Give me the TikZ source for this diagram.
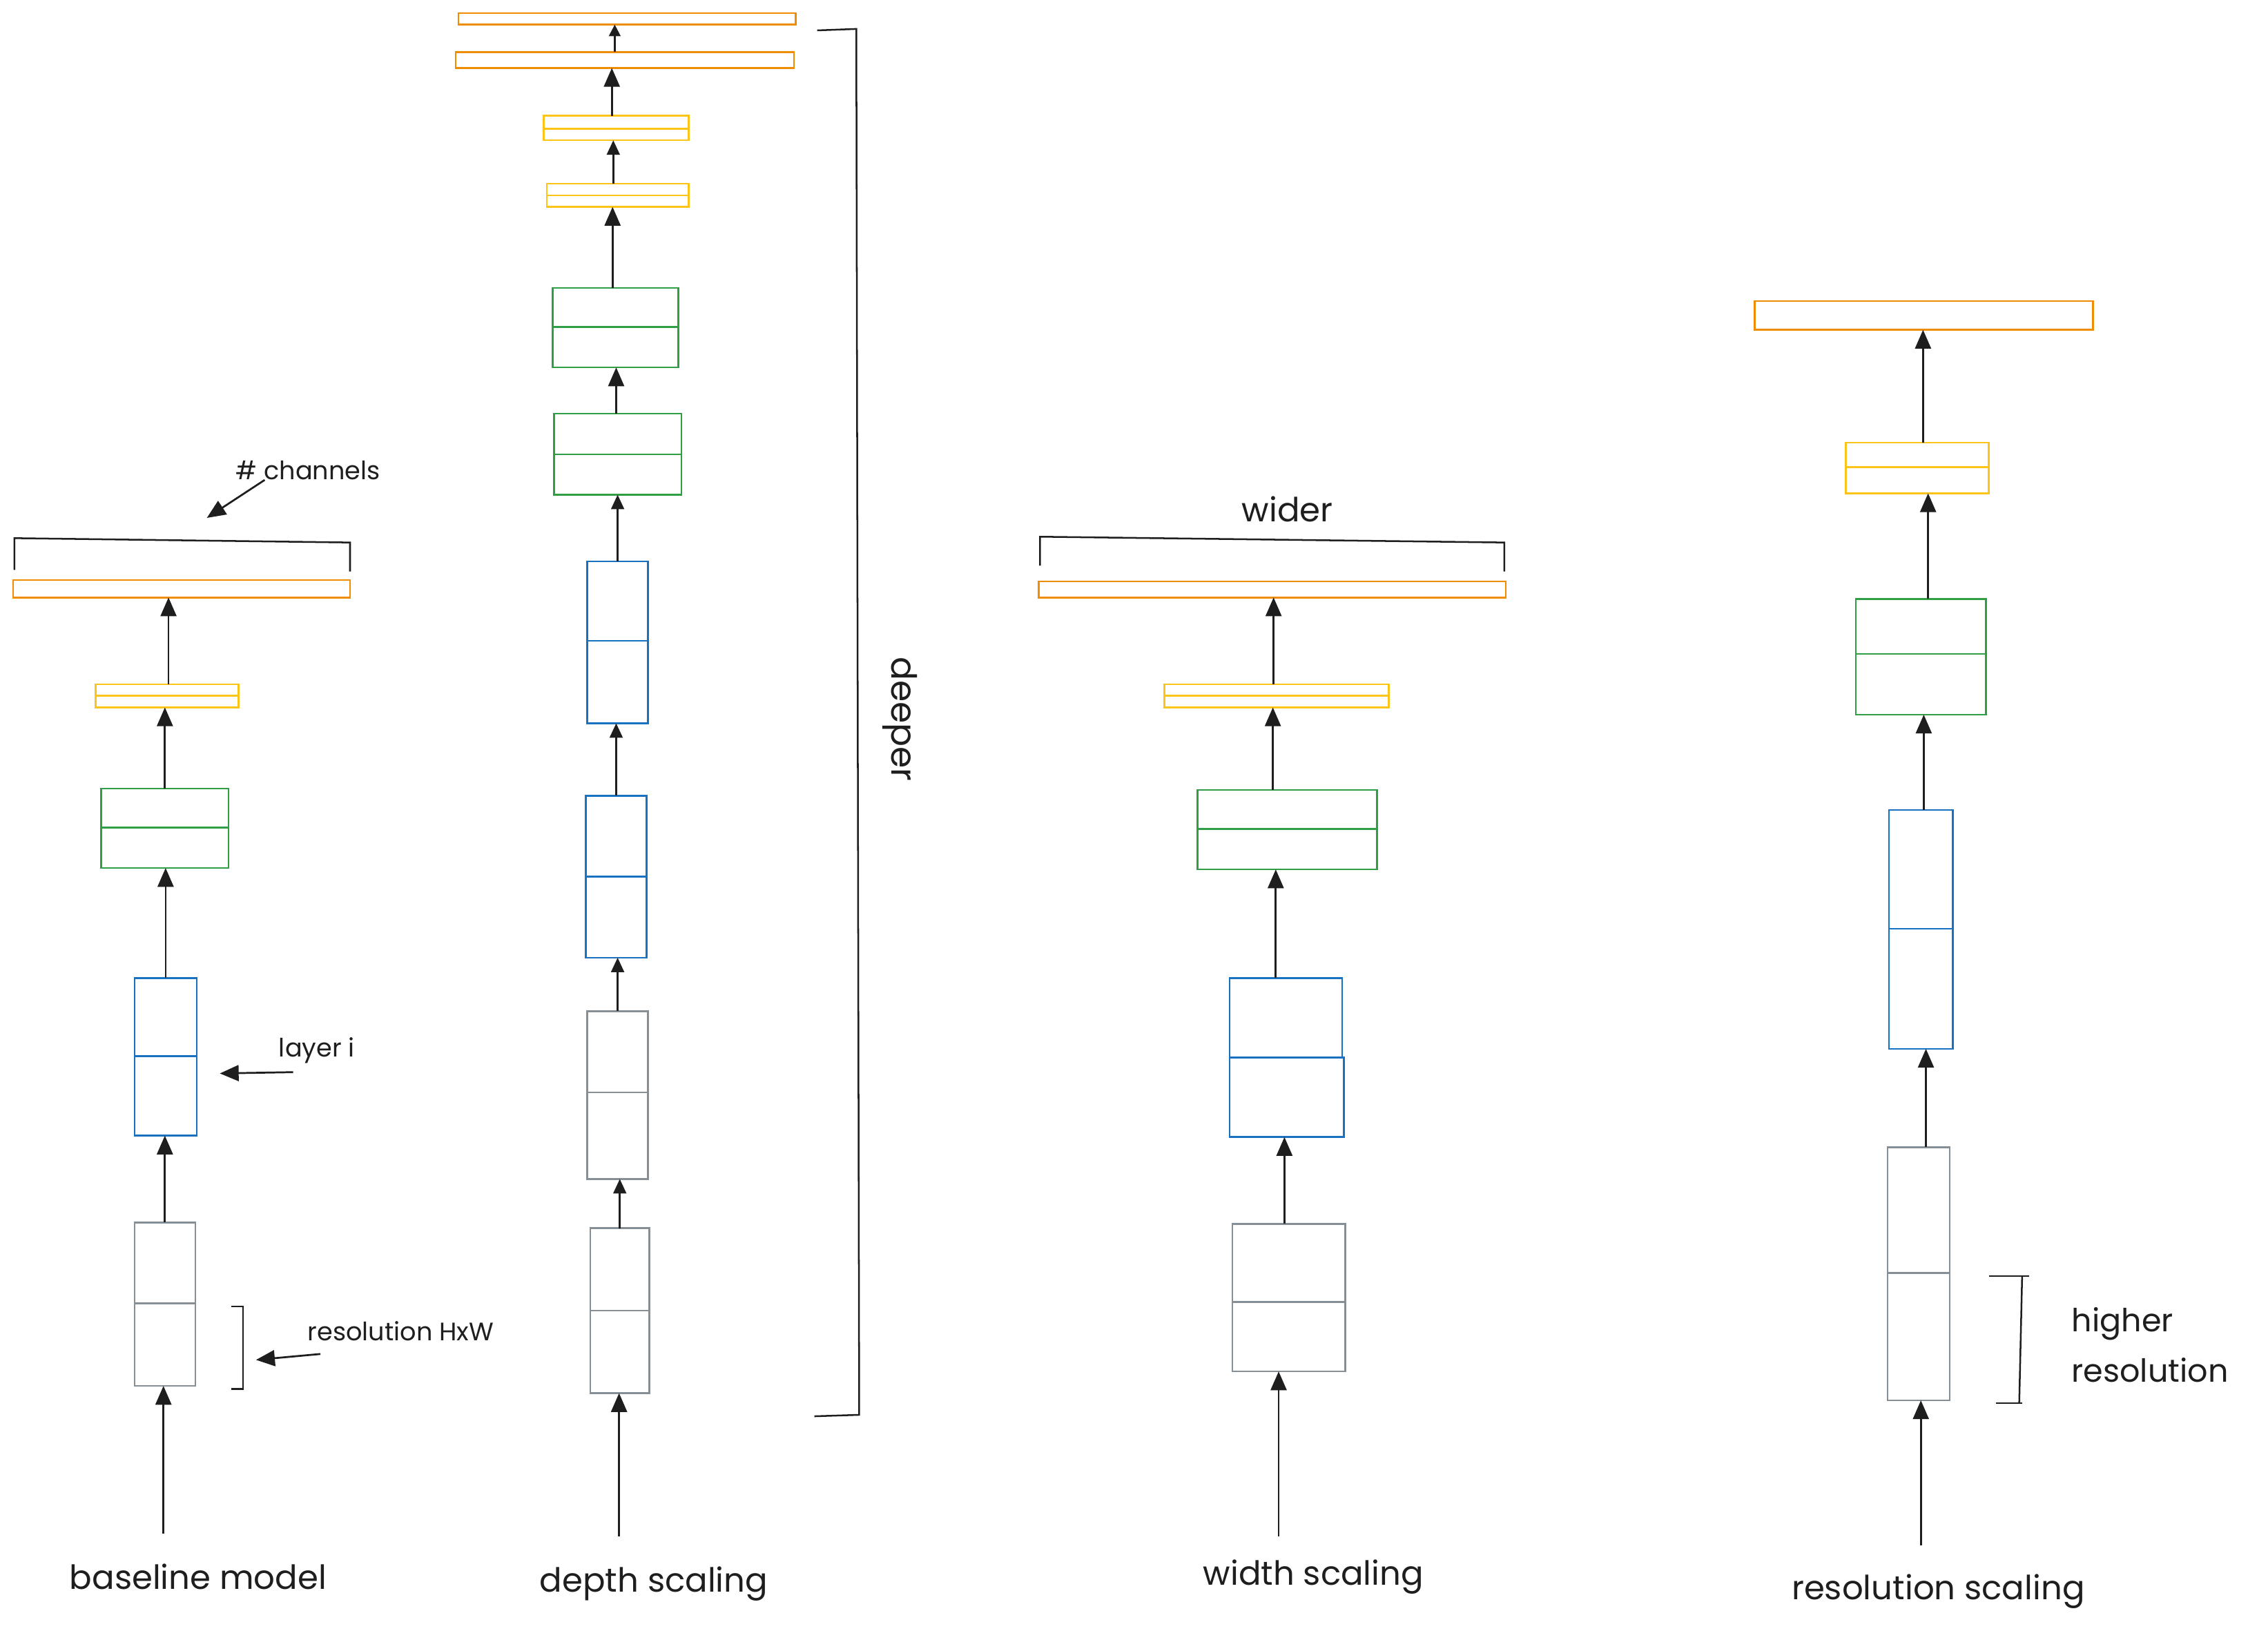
\documentclass[tikz,border=0pt]{standalone}
\usepackage{fontspec}
\setmainfont{Poppins}
\usetikzlibrary{arrows.meta}
\definecolor{cOrange}{HTML}{F08C00}
\definecolor{cYellow}{HTML}{FCC419}
\definecolor{cGreen}{HTML}{2F9E44}
\definecolor{cBlue}{HTML}{1971C2}
\definecolor{cGray}{HTML}{868E96}
\definecolor{cInk}{HTML}{1E1E1E}
\newcommand\mkbox[6]{\node[#2, minimum width={#5pt-#3pt}, minimum height={#6pt-#4pt}] (#1) at (#3,#4) {};}
\tikzset{
  box/.style={draw, fill=none, inner sep=0pt, outer sep=0pt, anchor=north west, line width=1.2pt},
  obox/.style={box, draw=cOrange},
  ybox/.style={box, draw=cYellow},
  gbox/.style={box, draw=cGreen},
  bbox/.style={box, draw=cBlue},
  rbox/.style={box, draw=cGray},
  flow/.style={draw=cInk, line width=1.3pt, -{Triangle[length=13pt,width=11pt]}},
  sflow/.style={draw=cInk, line width=1.2pt, -{Triangle[length=10pt,width=9pt]}},
  tflow/.style={draw=cInk, line width=1.1pt, -{Triangle[length=8pt,width=8pt]}},
  brk/.style={draw=cInk, line width=1.2pt},
  lbl/.style={text=cInk, inner sep=0pt, font=\fontsize{23}{27}\selectfont},
  mlbl/.style={text=cInk, inner sep=0pt, font=\fontsize{22}{26}\selectfont},
  note/.style={text=cInk, inner sep=0pt, font=\fontsize{17.5}{21}\selectfont},
}
\begin{document}
\begin{tikzpicture}[x=1pt, y=-1pt]
\useasboundingbox (0,0) rectangle (1568,1127);

% ---------------- baseline model ----------------
\mkbox{Aro}{rbox}{93}{901}{135}{958}
\mkbox{Arh}{rbox}{93}{845}{135}{901}
\mkbox{Abo}{bbox}{93}{730}{136}{785}
\mkbox{Abh}{bbox}{93}{676}{136}{730}
\mkbox{Ago}{gbox}{70}{572}{158}{600}
\mkbox{Agh}{gbox}{70}{545}{158}{572}
\mkbox{Ayo}{ybox}{66}{481}{165}{489}
\mkbox{Ayh}{ybox}{66}{473}{165}{481}
\mkbox{Ao}{obox}{9}{401}{242}{413}
\coordinate (Ain) at (113,1060);
\draw[flow] (Ain) -- (Ain |- Aro.south);
\draw[flow] (Arh.north) -- (Arh.north |- Abo.south);
\draw[flow] (Abh.north) -- (Abh.north |- Ago.south);
\draw[flow] (Agh.north) -- (Agh.north |- Ayo.south);
\draw[flow] ([xshift=1pt]Ayh.north) -- ([xshift=1pt]Ayh.north |- Ao.south);
\node[lbl] (Alab) at (137,1090) {baseline model};
% channels bracket
\coordinate (Ach1) at (10,394);
\coordinate (Ach2) at (242,395);
\draw[brk] (Ach1) -- (10,372) -- (242,375) -- (Ach2);
\node[note] (chan) at (213,325) {\# channels};
\coordinate (chTip) at (143,358);
\draw[flow] ([xshift=-30pt]chan.south) -- (chTip);
% layer i
\node[note] (lay) at (219,726) {layer i};
\coordinate (layTip) at (152,742);
\draw[flow] ([shift={(10pt,-6pt)}]lay.south west) -- (layTip);
% resolution HxW
\draw[brk] (160,903) -- (168,903) -- (168,960) -- (160,960);
\node[note] (resA) at (277,920) {resolution HxW};
\coordinate (resTip) at (177,940);
\draw[flow] ([shift={(9pt,-9pt)}]resA.south west) -- (resTip);

% ---------------- depth scaling ----------------
\mkbox{Dr1o}{rbox}{408}{906}{449}{963}
\mkbox{Dr1h}{rbox}{408}{849}{449}{906}
\mkbox{Dr2o}{rbox}{406}{755}{448}{815}
\mkbox{Dr2h}{rbox}{406}{699}{448}{755}
\mkbox{Db1o}{bbox}{405}{606}{447}{662}
\mkbox{Db1h}{bbox}{405}{550}{447}{606}
\mkbox{Db2o}{bbox}{406}{443}{448}{500}
\mkbox{Db2h}{bbox}{406}{388}{448}{443}
\mkbox{Dg1o}{gbox}{383}{314}{471}{342}
\mkbox{Dg1h}{gbox}{383}{286}{471}{314}
\mkbox{Dg2o}{gbox}{382}{226}{469}{254}
\mkbox{Dg2h}{gbox}{382}{199}{469}{226}
\mkbox{Dy1o}{ybox}{378}{135}{476}{143}
\mkbox{Dy1h}{ybox}{378}{127}{476}{135}
\mkbox{Dy2o}{ybox}{376}{89}{476}{97}
\mkbox{Dy2h}{ybox}{376}{80}{476}{89}
\mkbox{Do1}{obox}{315}{36}{549}{47}
\mkbox{Do2}{obox}{317}{9}{550}{17}
\coordinate (Din) at (428,1062);
\draw[flow] (Din) -- (Din |- Dr1o.south);
\draw[sflow] (Dr1h.north) -- (Dr1h.north |- Dr2o.south);
\draw[sflow] (Dr2h.north) -- (Dr2h.north |- Db1o.south);
\draw[sflow] (Db1h.north) -- (Db1h.north |- Db2o.south);
\draw[sflow] (Db2h.north) -- (Db2h.north |- Dg1o.south);
\draw[flow] ([xshift=-1pt]Dg1h.north) -- ([xshift=-1pt]Dg1h.north |- Dg2o.south);
\draw[flow] ([xshift=-2pt]Dg2h.north) -- ([xshift=-2pt]Dg2h.north |- Dy1o.south);
\draw[sflow] ([xshift=-3pt]Dy1h.north) -- ([xshift=-3pt]Dy1h.north |- Dy2o.south);
\draw[flow] ([xshift=-3pt]Dy2h.north) -- ([xshift=-3pt]Dy2h.north |- Do1.south);
\draw[tflow] ([xshift=-7pt]Do1.north) -- ([xshift=-7pt]Do1.north |- Do2.south);
\node[lbl] (Dlab) at (452,1095) {depth scaling};
% deeper bracket
\draw[brk] (565,21) -- (592,20) -- (594,978) -- (563,979);
\node[mlbl, font=\fontsize{24}{28}\selectfont, rotate=-90] (deep) at (622,497) {deeper};

% ---------------- width scaling ----------------
\mkbox{Wro}{rbox}{852}{900}{930}{948}
\mkbox{Wrh}{rbox}{852}{846}{930}{900}
\mkbox{Wbo}{bbox}{850}{731}{929}{786}
\mkbox{Wbh}{bbox}{850}{676}{928}{731}
\mkbox{Wgo}{gbox}{828}{573}{952}{601}
\mkbox{Wgh}{gbox}{828}{546}{952}{573}
\mkbox{Wyo}{ybox}{805}{481}{960}{489}
\mkbox{Wyh}{ybox}{805}{473}{960}{481}
\mkbox{Wo}{obox}{718}{402}{1041}{413}
\coordinate (Win) at (884,1062);
\draw[flow] (Win) -- (Win |- Wro.south);
\draw[flow] ([xshift=-3pt]Wrh.north) -- ([xshift=-3pt]Wrh.north |- Wbo.south);
\draw[flow] ([xshift=-7pt]Wbh.north) -- ([xshift=-7pt]Wbh.north |- Wgo.south);
\draw[flow] ([xshift=-10pt]Wgh.north) -- ([xshift=-10pt]Wgh.north |- Wyo.south);
\draw[flow] ([xshift=-2pt]Wyh.north) -- ([xshift=-2pt]Wyh.north |- Wo.south);
\draw[brk] (719,391) -- (719,371) -- (1040,375) -- (1040,395);
\node[mlbl, font=\fontsize{23}{27}\selectfont] (wide) at (890,352) {wider};
\node[lbl] (Wlab) at (908,1090) {width scaling};

% ---------------- resolution scaling ----------------
\mkbox{Rro}{rbox}{1305}{880}{1348}{968}
\mkbox{Rrh}{rbox}{1305}{793}{1348}{880}
\mkbox{Rbo}{bbox}{1306}{642}{1350}{725}
\mkbox{Rbh}{bbox}{1306}{560}{1350}{642}
\mkbox{Rgo}{gbox}{1283}{452}{1373}{494}
\mkbox{Rgh}{gbox}{1283}{414}{1373}{452}
\mkbox{Ryo}{ybox}{1276}{323}{1375}{341}
\mkbox{Ryh}{ybox}{1276}{306}{1375}{323}
\mkbox{Ro}{obox}{1213}{208}{1447}{228}
\coordinate (Rin) at (1328,1068);
\draw[flow] (Rin) -- (Rin |- Rro.south);
\draw[flow] ([xshift=5pt]Rrh.north) -- ([xshift=5pt]Rrh.north |- Rbo.south);
\draw[flow] ([xshift=2pt]Rbh.north) -- ([xshift=2pt]Rbh.north |- Rgo.south);
\draw[flow] ([xshift=5pt]Rgh.north) -- ([xshift=5pt]Rgh.north |- Ryo.south);
\draw[flow] ([xshift=4pt]Ryh.north) -- ([xshift=4pt]Ryh.north |- Ro.south);
\draw[brk] (1375,882) -- (1403,882);
\draw[brk] (1398,882) -- (1396,970);
\draw[brk] (1380,970) -- (1398,970);
\node[mlbl, anchor=west] (hig1) at (1432,915) {higher};
\node[mlbl, anchor=west] (hig2) at (1432,947) {resolution};
\node[lbl] (Rlab) at (1340,1100) {resolution scaling};
\end{tikzpicture}
\end{document}
